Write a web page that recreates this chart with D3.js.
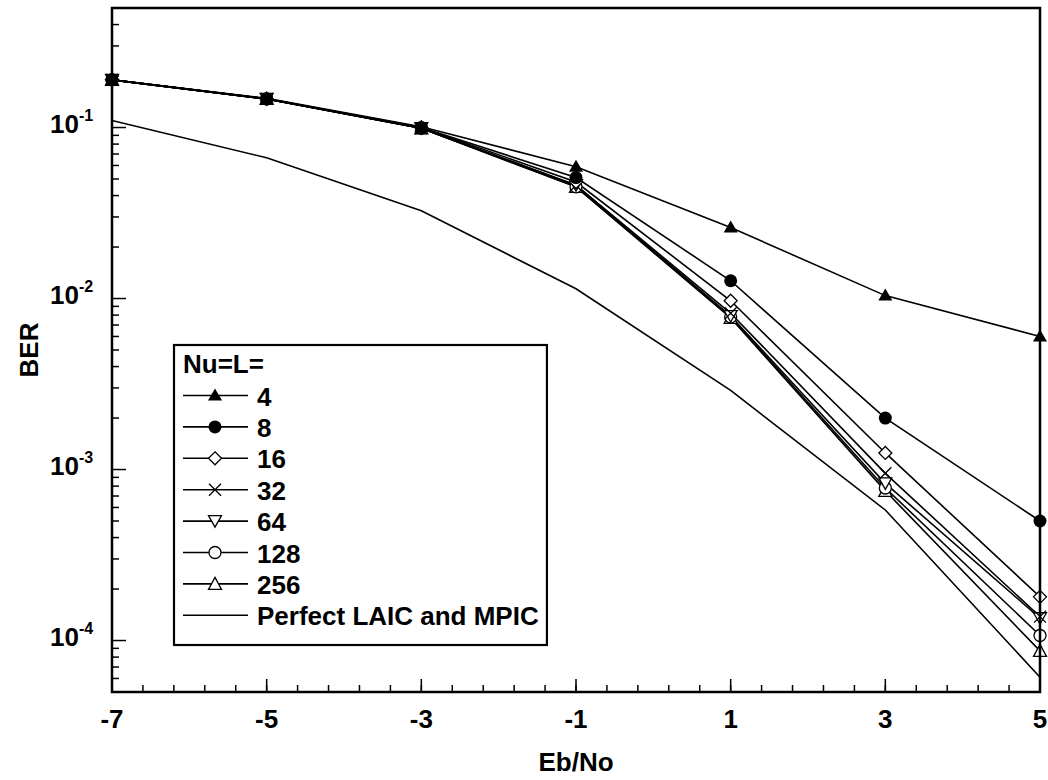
<!DOCTYPE html>
<html><head><meta charset="utf-8">
<script src="https://cdn.jsdelivr.net/npm/d3@7"></script>
<style>
body{margin:0;background:#fff;}
text{font-family:"Liberation Sans",Arial,sans-serif;font-weight:bold;fill:#000;}
</style></head>
<body><svg id="c" width="1048" height="780"></svg>
<script>
const ebno = [-7, -5, -3, -1, 1, 3, 5];
const xTickLabels = ["-7", "-5", "-3", "-1", "1", "3", "5"];
const yTickExps = [-1, -2, -3, -4];
const seriesNames = ["4", "8", "16", "32", "64", "128", "256", "Perfect LAIC and MPIC"];
const ber4   = [0.19, 0.148, 0.101, 0.059, 0.026, 0.0104, 0.0060];
const ber8   = [0.19, 0.147, 0.100, 0.051, 0.0127, 0.0020, 0.00050];
const ber16  = [0.19, 0.147, 0.100, 0.048, 0.0097, 0.00125, 0.00018];
const ber32  = [0.19, 0.147, 0.099, 0.046, 0.0082, 0.00095, 0.000138];
const ber64  = [0.19, 0.147, 0.099, 0.046, 0.0079, 0.00083, 0.000135];
const ber128 = [0.19, 0.147, 0.099, 0.045, 0.0078, 0.00078, 0.000107];
const ber256 = [0.19, 0.147, 0.099, 0.045, 0.0077, 0.00075, 0.000087];
const berPerfect = [0.11, 0.0665, 0.0326, 0.0114, 0.0029, 0.00058, 0.000061];

const allSeries = [ber4, ber8, ber16, ber32, ber64, ber128, ber256, berPerfect];
const markers = ["triFill", "circFill", "diamond", "cross", "triDown", "circle", "triUp", null];

const svg = d3.select("#c");
const L = 112, R = 1040, T = 8, B = 692;
const x = d3.scaleLinear().domain([-7, 5]).range([L, R]);
const y = d3.scaleLog().domain([5e-5, 0.5]).range([B, T]);

const g = svg.append("g");
const xMinor = d3.range(0, 31).map(i => -7 + i * 0.4);
g.selectAll(".xm").data(xMinor).join("line")
  .attr("x1", d => x(d)).attr("x2", d => x(d))
  .attr("y1", B).attr("y2", B - 7).attr("stroke", "#000").attr("stroke-width", 1.5);
g.selectAll(".xM").data(ebno).join("line")
  .attr("x1", d => x(d)).attr("x2", d => x(d))
  .attr("y1", B).attr("y2", B - 13).attr("stroke", "#000").attr("stroke-width", 1.5);
g.selectAll(".xl").data(ebno).join("text")
  .attr("x", d => x(d)).attr("y", 728).attr("text-anchor", "middle")
  .attr("font-size", 26).text((d, i) => xTickLabels[i]);

const yMinor = [];
for (let e = -5; e <= 0; e++) for (let m = 2; m <= 9; m++) {
  const v = m * Math.pow(10, e);
  if (v >= 5e-5 && v <= 0.5) yMinor.push(v);
}
g.selectAll(".ym").data(yMinor).join("line")
  .attr("x1", L).attr("x2", L + 7)
  .attr("y1", d => y(d)).attr("y2", d => y(d)).attr("stroke", "#000").attr("stroke-width", 1.5);
g.selectAll(".yM").data(yTickExps).join("line")
  .attr("x1", L).attr("x2", L + 14)
  .attr("y1", d => y(Math.pow(10, d))).attr("y2", d => y(Math.pow(10, d))).attr("stroke", "#000").attr("stroke-width", 1.5);
const yl = g.selectAll(".yl").data(yTickExps).join("text")
  .attr("x", 50).attr("y", d => y(Math.pow(10, d)) + 5).attr("font-size", 26);
yl.append("tspan").text("10");
yl.append("tspan").attr("dy", -12).attr("font-size", 16).text(d => String(d));

const line = d3.line().x((d, i) => x(ebno[i])).y(d => y(d));
allSeries.forEach((s, k) => {
  svg.append("path").datum(s).attr("d", line)
    .attr("fill", "none").attr("stroke", "#000").attr("stroke-width", 1.6);
});

function drawMarker(sel, type, cx, cy) {
  const sw = 1.3;
  switch (type) {
    case "triFill":
      sel.append("path").attr("d", `M${cx},${cy-7}L${cx+7},${cy+5}L${cx-7},${cy+5}Z`).attr("fill", "#000"); break;
    case "circFill":
      sel.append("circle").attr("cx", cx).attr("cy", cy).attr("r", 6.5).attr("fill", "#000"); break;
    case "diamond":
      sel.append("path").attr("d", `M${cx},${cy-6.5}L${cx+6.5},${cy}L${cx},${cy+6.5}L${cx-6.5},${cy}Z`)
        .attr("fill", "#fff").attr("stroke", "#000").attr("stroke-width", sw); break;
    case "cross":
      sel.append("path").attr("d", `M${cx-6},${cy-6}L${cx+6},${cy+6}M${cx-6},${cy+6}L${cx+6},${cy-6}`)
        .attr("stroke", "#000").attr("stroke-width", sw); break;
    case "triDown":
      sel.append("path").attr("d", `M${cx-6.5},${cy-5.5}L${cx+6.5},${cy-5.5}L${cx},${cy+6}Z`)
        .attr("fill", "#fff").attr("stroke", "#000").attr("stroke-width", sw); break;
    case "circle":
      sel.append("circle").attr("cx", cx).attr("cy", cy).attr("r", 6)
        .attr("fill", "#fff").attr("stroke", "#000").attr("stroke-width", sw); break;
    case "triUp":
      sel.append("path").attr("d", `M${cx},${cy-6.5}L${cx+6.5},${cy+5.5}L${cx-6.5},${cy+5.5}Z`)
        .attr("fill", "#fff").attr("stroke", "#000").attr("stroke-width", sw); break;
  }
}
// draw markers from last series to first so filled markers end on top
for (let k = allSeries.length - 1; k >= 0; k--) {
  if (!markers[k]) continue;
  const mg = svg.append("g");
  allSeries[k].forEach((v, i) => drawMarker(mg, markers[k], x(ebno[i]), y(v)));
}

svg.append("rect").attr("x", L).attr("y", T).attr("width", R - L).attr("height", B - T)
  .attr("fill", "none").attr("stroke", "#000").attr("stroke-width", 2.5);

svg.append("text").attr("x", (L + R) / 2).attr("y", 771).attr("text-anchor", "middle")
  .attr("font-size", 26).text("Eb/No");
svg.append("text").attr("transform", `translate(38,${(T + B) / 2}) rotate(-90)`)
  .attr("text-anchor", "middle").attr("font-size", 26).text("BER");

const lg = svg.append("g");
const lx = 174, ly = 345;
const rowY = d3.range(seriesNames.length).map(i => 395.5 + i * 31.4);
lg.append("text").attr("x", 183).attr("y", 373).attr("font-size", 26).text("Nu=L=");
seriesNames.forEach((nm, i) => {
  lg.append("line").attr("x1", 183).attr("x2", 248).attr("y1", rowY[i]).attr("y2", rowY[i])
    .attr("stroke", "#000").attr("stroke-width", 1.6);
  if (markers[i]) drawMarker(lg, markers[i], 215, rowY[i]);
  lg.append("text").attr("x", 257).attr("y", rowY[i] + 10).attr("font-size", 26).text(nm);
});
const bb = lg.node().getBBox();
lg.insert("rect", ":first-child").attr("x", lx).attr("y", ly)
  .attr("width", bb.x + bb.width - lx + 8).attr("height", 645 - ly)
  .attr("fill", "#fff").attr("stroke", "#000").attr("stroke-width", 2.2);
</script></body></html>
